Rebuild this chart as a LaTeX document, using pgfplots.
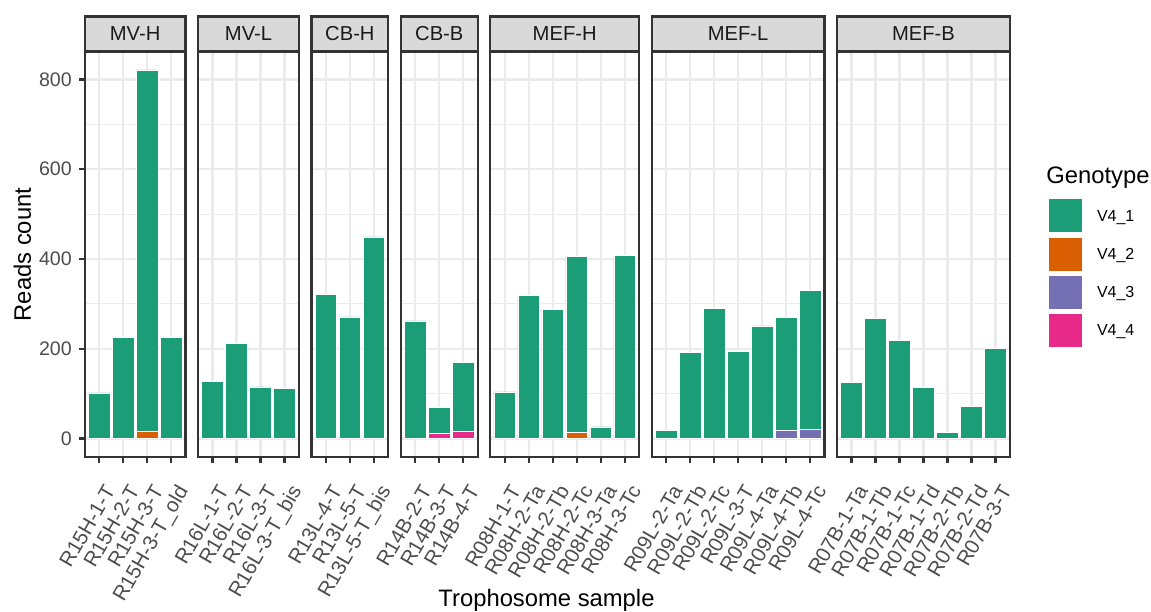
\documentclass[border=0pt]{standalone}
\usepackage{pgfplots}
\pgfplotsset{compat=1.18}
\usepackage{fontspec}
\setmainfont{Liberation Sans}
\definecolor{c1}{HTML}{1B9E77}
\definecolor{c2}{HTML}{D95F02}
\definecolor{c3}{HTML}{7570B3}
\definecolor{c4}{HTML}{E7298A}
\definecolor{grey10}{HTML}{1A1A1A}
\definecolor{grey20}{HTML}{333333}
\definecolor{grey30}{HTML}{4D4D4D}
\definecolor{grey85}{HTML}{D9D9D9}
\definecolor{grey92}{HTML}{EBEBEB}
\newcommand\ticksize{\fontsize{9.8pt}{11pt}\selectfont}
\newcommand\xticksize{\fontsize{10.3pt}{12pt}\selectfont}
\newcommand\stripsize{\fontsize{10.1pt}{12pt}\selectfont}
\newcommand\legsize{\fontsize{8pt}{10pt}\selectfont}
\newcommand\titlesize{\fontsize{11.9pt}{14pt}\selectfont}
\pgfplotsset{
  facet/.style={
    x=12pt, y=0.2245pt,
    ymin=-41, ymax=861,
    anchor=south west,
    ybar stacked, bar width=0.9,
    axis line style={grey20, line width=1.15pt},
    ytick={0,200,400,600,800},
    minor ytick={100,300,500,700},
    ymajorgrids, yminorgrids, xmajorgrids,
    major grid style={grey92, line width=1.15pt},
    minor grid style={grey92, line width=0.58pt},
    tick align=outside, tick pos=left,
    major tick length=2.95pt, minor tick length=0pt,
    tick style={grey20, line width=1.15pt},
    /pgf/number format/assume math mode=true,
    yticklabel style={font=\ticksize, text=grey30},
    xticklabel style={font=\xticksize, text=grey30, inner sep=0pt,
      xshift=2.2pt, yshift=-10pt, rotate=60, anchor=north east},
    every axis title shift=0pt,
    title style={at={(0.5,1)}, anchor=south, yshift=0pt, fill=grey85, draw=grey20,
      line width=1.15pt, minimum height=17.25pt, inner sep=0pt, font=\stripsize,
      text=grey10, text height=7.2pt, text depth=0pt},
    every axis plot/.append style={draw=white, line width=0.3pt},
  },
  noy/.style={yticklabels={}, ytick style={draw=none}},
  sqlegend/.style={legend image code/.code={\fill[##1] (0pt,-8.5pt) rectangle (17pt,8.5pt);}},
}
\begin{document}
\begin{tikzpicture}
\useasboundingbox (0,0) rectangle (575.5pt,-305.5pt);
% MV-H
\begin{axis}[facet, at={(42.35pt,-228.5pt)}, xmin=0.4, xmax=4.6, xtick={1,2,3,4},
  xticklabels={R15H-1-T,R15H-2-T,R15H-3-T,R15H-3-T\_old},
  title={MV-H}, title style={minimum width=50.4pt}]
\addplot[fill=c2] coordinates {(1,0) (2,0) (3,17) (4,0)};
\addplot[fill=c1] coordinates {(1,102) (2,226) (3,804) (4,226)};
\end{axis}
% MV-L
\begin{axis}[facet, noy, at={(99.05pt,-228.5pt)}, xmin=0.4, xmax=4.6, xtick={1,2,3,4},
  xticklabels={R16L-1-T,R16L-2-T,R16L-3-T,R16L-3-T\_bis},
  title={MV-L}, title style={minimum width=50.4pt}]
\addplot[fill=c1] coordinates {(1,128) (2,212) (3,115) (4,112)};
\end{axis}
% CB-H
\begin{axis}[facet, noy, at={(155.75pt,-228.5pt)}, xmin=0.4, xmax=3.6, xtick={1,2,3},
  xticklabels={R13L-4-T,R13L-5-T,R13L-5-T\_bis},
  title={CB-H}, title style={minimum width=38.4pt}]
\addplot[fill=c1] coordinates {(1,322) (2,271) (3,449)};
\end{axis}
% CB-B
\begin{axis}[facet, noy, at={(200.45pt,-228.5pt)}, xmin=0.4, xmax=3.6, xtick={1,2,3},
  xticklabels={R14B-2-T,R14B-3-T,R14B-4-T},
  title={CB-B}, title style={minimum width=38.4pt}]
\addplot[fill=c4] coordinates {(1,0) (2,11) (3,16)};
\addplot[fill=c1] coordinates {(1,262) (2,59) (3,153)};
\end{axis}
% MEF-H
\begin{axis}[facet, noy, at={(245.15pt,-228.5pt)}, xmin=0.4, xmax=6.6, xtick={1,...,6},
  xticklabels={R08H-1-T,R08H-2-Ta,R08H-2-Tb,R08H-2-Tc,R08H-3-Ta,R08H-3-Tc},
  title={MEF-H}, title style={minimum width=74.4pt}]
\addplot[fill=c2] coordinates {(1,0) (2,0) (3,0) (4,14) (5,0) (6,0)};
\addplot[fill=c1] coordinates {(1,104) (2,319) (3,287) (4,391) (5,26) (6,408)};
\end{axis}
% MEF-L
\begin{axis}[facet, noy, at={(325.85pt,-228.5pt)}, xmin=0.4, xmax=7.6, xtick={1,...,7},
  xticklabels={R09L-2-Ta,R09L-2-Tb,R09L-2-Tc,R09L-3-T,R09L-4-Ta,R09L-4-Tb,R09L-4-Tc},
  title={MEF-L}, title style={minimum width=86.4pt}]
\addplot[fill=c3] coordinates {(1,0) (2,0) (3,0) (4,0) (5,0) (6,19) (7,20)};
\addplot[fill=c1] coordinates {(1,19) (2,192) (3,290) (4,195) (5,251) (6,251) (7,310)};
\end{axis}
% MEF-B
\begin{axis}[facet, noy, at={(418.55pt,-228.5pt)}, xmin=0.4, xmax=7.6, xtick={1,...,7},
  xticklabels={R07B-1-Ta,R07B-1-Tb,R07B-1-Tc,R07B-1-Td,R07B-2-Tb,R07B-2-Td,R07B-3-T},
  title={MEF-B}, title style={minimum width=86.4pt},
  legend cell align=left,
  legend style={at={(1.2205,0.6395)}, anchor=north west, draw=none, fill=none,
    inner xsep=0pt, inner ysep=0pt, row sep=1.75pt, font=\legsize,
    nodes={inner sep=0.9pt, text height=5.8pt, text depth=0pt},
    /tikz/every odd column/.append style={column sep=6.1pt}}]
\addplot[fill=c1, forget plot] coordinates {(1,126) (2,267) (3,218) (4,114) (5,13) (6,71) (7,201)};
\addlegendimage{sqlegend, fill=c1, draw=white, line width=0.3pt}
\addlegendentry{V4\_1}
\addlegendimage{sqlegend, fill=c2, draw=white, line width=0.3pt}
\addlegendentry{V4\_2}
\addlegendimage{sqlegend, fill=c3, draw=white, line width=0.3pt}
\addlegendentry{V4\_3}
\addlegendimage{sqlegend, fill=c4, draw=white, line width=0.3pt}
\addlegendentry{V4\_4}
\end{axis}
\node[anchor=west, inner sep=0pt, font=\titlesize, text height=8.5pt, text depth=0pt] at (523pt,-87.4pt) {Genotype};
\node[anchor=center, inner sep=0pt, font=\titlesize, text height=8.5pt, text depth=0pt] at (273.25pt,-299.15pt) {Trophosome sample};
\node[anchor=center, rotate=90, inner sep=0pt, font=\titlesize, text height=8.5pt, text depth=0pt] at (11.25pt,-127.25pt) {Reads count};
\end{tikzpicture}
\end{document}
